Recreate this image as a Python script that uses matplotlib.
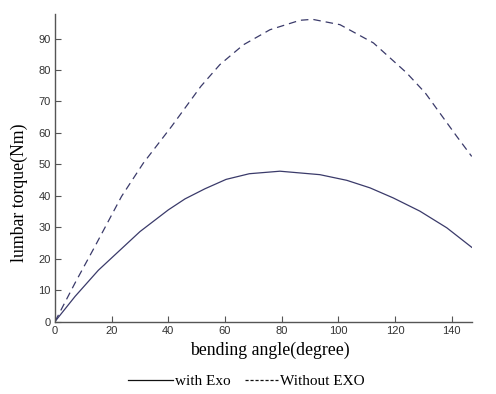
import matplotlib
matplotlib.use('Agg')
import matplotlib.pyplot as plt
from matplotlib.lines import Line2D

# bending angle (deg) vs lumbar torque (Nm)
angle_exo = [0, 7.1, 15.3, 30.0, 40.0, 45.9, 52.9, 60.4, 68.6, 79.4, 93.5,
             103.0, 111.2, 119.4, 128.8, 138.3, 147.1]
torque_exo = [0, 8.0, 16.3, 28.6, 35.5, 39.0, 42.2, 45.2, 47.0, 47.8, 46.7,
              44.9, 42.5, 39.3, 35.1, 29.8, 23.6]

angle_noexo = [0, 7.1, 14.1, 23.5, 31.2, 41.2, 51.5, 58.2, 66.5, 75.9, 86.5,
               90.9, 100.6, 112.4, 124.1, 130.7, 141.8, 147.1]
torque_noexo = [0, 12.3, 23.9, 39.8, 50.4, 62.1, 74.8, 81.7, 88.0, 92.8, 95.8,
                96.1, 94.4, 88.6, 79.1, 72.7, 58.9, 52.5]

xticks = [0, 20, 40, 60, 80, 100, 120, 140]
yticks = [0, 10, 20, 30, 40, 50, 60, 70, 80, 90]

line_col = '#3a3a6a'
spine_col = '#555555'
serif = 'Liberation Serif'

fig = plt.figure(figsize=(4.96, 3.94), dpi=100)
ax = fig.add_axes([0.1109, 0.184, 0.8407, 0.7805])

ax.plot(angle_exo, torque_exo, color=line_col, lw=0.9)
ax.plot(angle_noexo, torque_noexo, color=line_col, lw=0.9, ls=(0, (6, 4)))

ax.set_xlim(0, 147.2)
ax.set_ylim(0, 97.8)
ax.set_xticks(xticks)
ax.set_yticks(yticks)
ax.tick_params(direction='in', length=4, width=0.8, colors=spine_col,
               labelsize=8, labelcolor='#333333')
ax.tick_params(axis='x', pad=3.5)
ax.tick_params(axis='y', pad=3)
for lab in ax.get_xticklabels() + ax.get_yticklabels():
    lab.set_family('Liberation Sans')

for s in ['top', 'right']:
    ax.spines[s].set_visible(False)
for s in ['left', 'bottom']:
    ax.spines[s].set_color(spine_col)
    ax.spines[s].set_linewidth(1.0)

ax.set_xlabel('bending angle(degree)', family=serif, fontsize=12.8)
ax.set_ylabel('lumbar torque(Nm)', family=serif, fontsize=12.8)
ax.xaxis.set_label_coords(0.516, -0.067)
ax.yaxis.set_label_coords(-0.065, 0.419)

# two separate legend entries, the dashed sample is shorter in the original
h1 = Line2D([], [], color='#111111', lw=0.9)
h2 = Line2D([], [], color='#111111', lw=0.9, ls=(0, (2.5, 1.5)))
leg_kw = dict(frameon=False, prop={'family': serif, 'size': 11},
              handletextpad=0.15, borderpad=0, borderaxespad=0)
fig.legend([h1], ['with Exo'], loc='center left',
           bbox_to_anchor=(128 / 496, 0.032), handlelength=2.95, **leg_kw)
fig.legend([h2], ['Without EXO'], loc='center left',
           bbox_to_anchor=(245 / 496, 0.032), handlelength=2.15, **leg_kw)

fig.savefig('out.png', dpi=100)
